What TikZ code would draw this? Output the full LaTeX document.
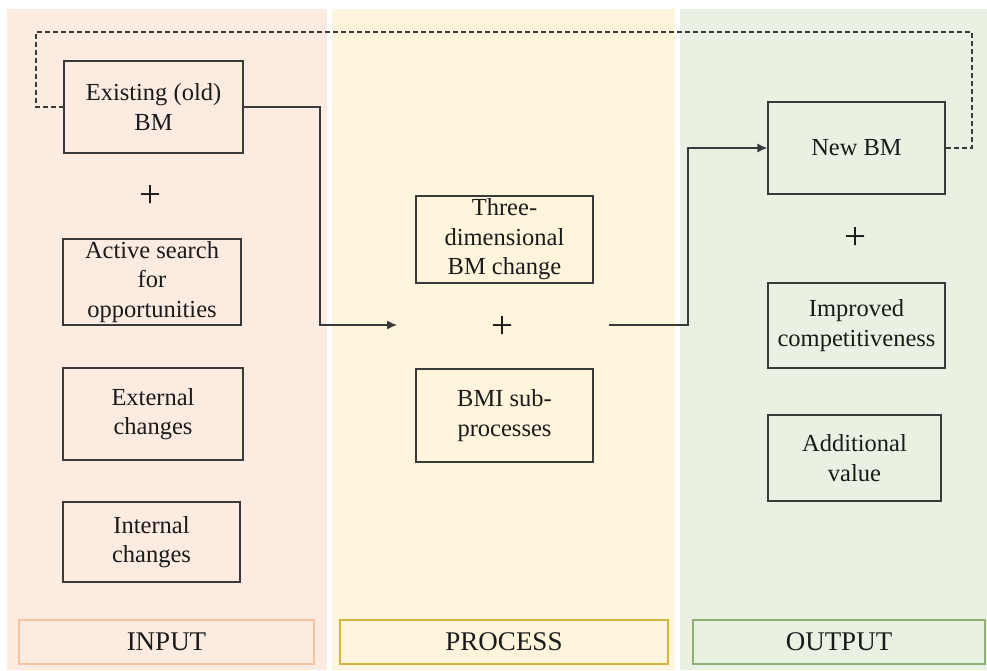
\documentclass[tikz,border=0pt]{standalone}
\usepackage{fontspec}
\setmainfont{Liberation Serif}
\usetikzlibrary{arrows.meta}

\definecolor{inbg}{HTML}{FBEBE1}
\definecolor{procbg}{HTML}{FFF5DC}
\definecolor{outbg}{HTML}{E9F1E3}
\definecolor{inedge}{HTML}{F7C3A0}
\definecolor{procedge}{HTML}{D7B442}
\definecolor{outedge}{HTML}{8FB074}
\definecolor{boxline}{HTML}{3A3A3A}
\definecolor{ink}{HTML}{1A1A1A}

\tikzset{
  stagebox/.style={draw=boxline, line width=1.2pt, inner sep=0pt, align=center,
    text=ink, font=\fontsize{24.5}{29.5}\selectfont},
  plussign/.style={text=ink, inner sep=0pt, font=\fontsize{39}{39}\selectfont},
  phaselabel/.style={line width=1.5pt, inner sep=0pt, text=ink,
    minimum height=44pt, font=\fontsize{27}{30}\selectfont},
  conn/.style={draw=boxline, line width=1.2pt},
  tip/.style={-{Latex[length=10pt,width=9pt]}},
  loopback/.style={draw=boxline, line width=1.2pt, dash pattern=on 5pt off 3pt}
}

\begin{document}
\begin{tikzpicture}[x=1pt, y=-1pt]
  \useasboundingbox (0,0) rectangle (987,670);
  \fill[white] (0,0) rectangle (987,670);

  % three phase panels
  \fill[inbg]   (7,9)   rectangle (327,670);
  \fill[procbg] (332,9) rectangle (675,670);
  \fill[outbg]  (680,9) rectangle (987,670);

  % input column
  \node[stagebox, minimum width=179pt, minimum height=92pt] (old) at (153.5,107) {Existing (old)\\BM};
  \node[plussign] (plusA) at (150,196) {+};
  \node[stagebox, minimum width=178pt, minimum height=86pt] (search) at (152,282) {Active search\\for\\opportunities};
  \node[stagebox, minimum width=180pt, minimum height=92pt] (ext) at (153,414) {External\\changes};
  \node[stagebox, minimum width=177pt, minimum height=80pt] (int) at (151.5,542) {Internal\\changes};

  % process column
  \node[stagebox, minimum width=177pt, minimum height=87pt] (three) at (504.5,239.5) {Three-\\dimensional\\BM change};
  \node[plussign] (plusB) at (502,327) {+};
  \node[stagebox, minimum width=177pt, minimum height=93pt] (bmi) at (504.5,415.5) {BMI sub-\\processes};

  % output column
  \node[stagebox, minimum width=177pt, minimum height=92pt] (new) at (856.5,148) {New BM};
  \node[plussign] (plusC) at (855,238) {+};
  \node[stagebox, minimum width=177pt, minimum height=85pt] (impr) at (856.5,325.5) {Improved\\competitiveness};
  \node[stagebox, minimum width=173pt, minimum height=86pt] (addv) at (854.5,458) {Additional\\value};

  % phase labels
  \node[phaselabel, draw=inedge, minimum width=295pt] (lin) at (166.5,642) {INPUT};
  \node[phaselabel, draw=procedge, minimum width=328pt] (lproc) at (504,642) {PROCESS};
  \node[phaselabel, draw=outedge, minimum width=292pt] (lout) at (839,642) {OUTPUT};

  % connectors
  \coordinate (intoProc) at (397,325);
  \coordinate (fromProc) at (609,325);
  \draw[conn, tip] (old.east) -- (320,107) |- (intoProc);
  \draw[conn, tip] (fromProc) -- (688,325) |- (new.west);
  \draw[loopback] (new.east) -- (972,148) -- (972,32) -- (36,32) |- (old.west);
\end{tikzpicture}
\end{document}
